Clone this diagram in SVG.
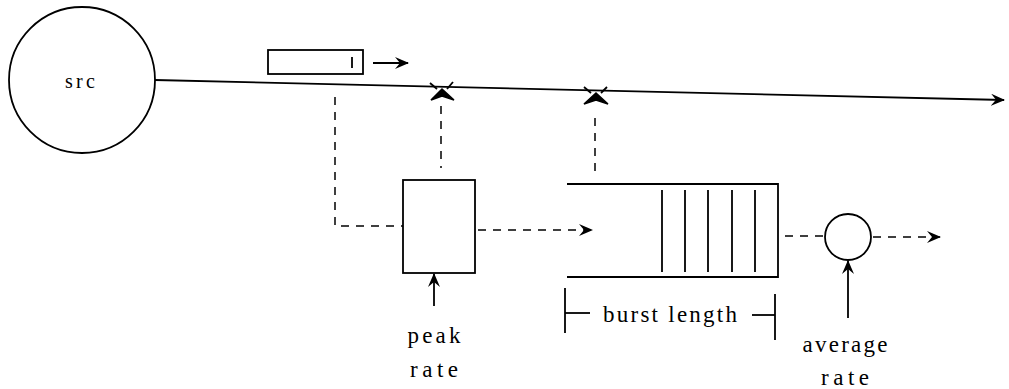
<svg xmlns="http://www.w3.org/2000/svg" width="1009" height="389" viewBox="0 0 1009 389">
<style>
.s{stroke:#000;stroke-width:1.8;fill:none}
.d{stroke:#000;stroke-width:1.5;fill:none;stroke-dasharray:8,7}
.t{font-family:"Liberation Serif",serif;font-size:23px;fill:#000;text-anchor:middle}
</style>
<defs>
<marker id="ah" viewBox="0 0 14 12" refX="13" refY="6" markerWidth="14" markerHeight="12" markerUnits="userSpaceOnUse" orient="auto">
<path d="M0,0 L14,6 L0,12 L5,6 z" fill="#000"/>
</marker>
</defs>
<rect width="1009" height="389" fill="#fff"/>
<g id="src">
<circle cx="82" cy="80" r="73" class="s"/>
<text x="80" y="88" class="t" style="font-size:20px" textLength="30">src</text>
</g>
<g id="packet">
<rect x="268" y="50" width="95" height="24" class="s"/>
<line x1="352" y1="57" x2="352" y2="68" class="s"/>
</g>
<g id="tap1">
<line x1="430" y1="83" x2="437" y2="89" class="s"/>
<line x1="453" y1="82" x2="447" y2="89" class="s"/>
<path d="M442,89 L454,100 L442,96 L431,100 z" fill="#000" stroke="#000" stroke-width="1.5"/>
</g>
<g id="tap2">
<line x1="584" y1="87" x2="591" y2="93" class="s"/>
<line x1="607" y1="87" x2="601" y2="93" class="s"/>
<path d="M596,93 L608,104 L596,100 L584,104 z" fill="#000" stroke="#000" stroke-width="1.5"/>
</g>
<g id="peak-box">
<rect x="403" y="180" width="72" height="93" class="s"/>
<text x="434" y="343" class="t" textLength="53">peak</text>
<text x="434" y="377" class="t" textLength="48">rate</text>
</g>
<g id="queue">
<path d="M567,184 L778,184 L778,277 L567,277" class="s"/>
<line x1="662" y1="190" x2="662" y2="272" class="s"/>
<line x1="685" y1="190" x2="685" y2="272" class="s"/>
<line x1="708" y1="190" x2="708" y2="272" class="s"/>
<line x1="732" y1="190" x2="732" y2="272" class="s"/>
<line x1="755" y1="190" x2="755" y2="272" class="s"/>
</g>
<g id="burst">
<line x1="565" y1="288" x2="565" y2="333" class="s"/>
<line x1="565" y1="313" x2="590" y2="313" class="s"/>
<line x1="752" y1="315" x2="775" y2="315" class="s"/>
<line x1="775" y1="294" x2="775" y2="340" class="s"/>
<text x="670" y="322" class="t" textLength="134">burst length</text>
</g>
<g id="average">
<circle cx="848" cy="237" r="23" class="s"/>
<text x="845" y="352" class="t" textLength="85">average</text>
<text x="845" y="385" class="t" textLength="48">rate</text>
</g>
<g id="connectors">
<line x1="155" y1="80" x2="1004" y2="100" class="s" marker-end="url(#ah)"/>
<line x1="373" y1="63" x2="408" y2="63" class="s" marker-end="url(#ah)"/>
<path d="M335,97 L335,226 L403,226" class="d"/>
<line x1="441" y1="106" x2="441" y2="168" class="d"/>
<line x1="595" y1="118" x2="595" y2="172" class="d"/>
<line x1="478" y1="230" x2="592" y2="230" class="d" marker-end="url(#ah)"/>
<line x1="785" y1="236" x2="825" y2="236" class="d"/>
<line x1="873" y1="237" x2="940" y2="237" class="d" marker-end="url(#ah)"/>
<line x1="434" y1="306" x2="434" y2="274" class="s" marker-end="url(#ah)"/>
<line x1="848" y1="318" x2="848" y2="261" class="s" marker-end="url(#ah)"/>
</g>
</svg>
